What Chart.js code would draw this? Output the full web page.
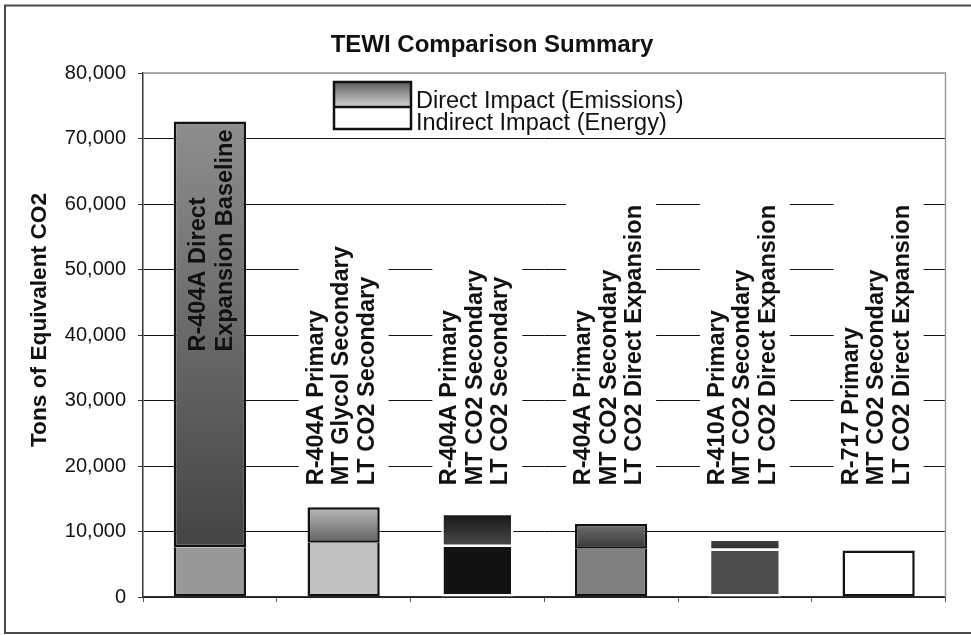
<!DOCTYPE html>
<html>
<head>
<meta charset="utf-8">
<script src="https://cdn.jsdelivr.net/npm/chart.js@4"></script>
<style>
  html, body { margin: 0; padding: 0; background: #fff; }
  #wrap { width: 971px; height: 635px; }
</style>
</head>
<body>
<div id="wrap"><canvas id="tewiChart" width="971" height="635"></canvas></div>
<script>
// categories (one array of lines per bar)
const categories = [
    ['R-404A Direct', 'Expansion Baseline'],
    ['R-404A Primary', 'MT Glycol Secondary', 'LT CO2 Secondary'],
    ['R-404A Primary', 'MT CO2 Secondary', 'LT CO2 Secondary'],
    ['R-404A Primary', 'MT CO2 Secondary', 'LT CO2 Direct Expansion'],
    ['R-410A Primary', 'MT CO2 Secondary', 'LT CO2 Direct Expansion'],
    ['R-717 Primary', 'MT CO2 Secondary', 'LT CO2 Direct Expansion']
];
const seriesNames = ['Indirect Impact (Energy)', 'Direct Impact (Emissions)'];
const indirectImpact = [7600, 8300, 7650, 7350, 7050, 7100];
const directImpact = [65000, 5400, 5200, 3800, 1900, 0];
const yTicks = [0, 10000, 20000, 30000, 40000, 50000, 60000, 70000, 80000];
const chartTitle = 'TEWI Comparison Summary';
const yTitle = 'Tons of Equivalent CO2';

// per bar styling
const indirectFill = ['#999999', '#c0c0c0', '#121212', '#808080', '#4d4d4d', '#ffffff'];
const directTop = ['#8e8e8e', '#bababa', '#141414', '#707070', '#464646', '#ffffff'];
const directBottom = ['#444444', '#626262', '#4c4c4c', '#363636', '#2c2c2c', '#ffffff'];
const edgeColor = ['#111', '#111', '#fff', '#111', '#fff', '#111'];

const FAMILY = '"Liberation Sans", Arial, sans-serif';
const LABEL_FONT = 'bold 23.5px ' + FAMILY;

function directGradient(context) {
    const i = context.dataIndex;
    if (context.type !== 'data') return '#666';
    const chart = context.chart;
    if (!chart.chartArea) return directBottom[i];
    const y = chart.scales.y;
    const yTop = y.getPixelForValue(indirectImpact[i] + directImpact[i]);
    const yBot = y.getPixelForValue(indirectImpact[i]);
    if (yBot - yTop < 1) return directBottom[i];
    const g = chart.ctx.createLinearGradient(0, yTop, 0, yBot);
    g.addColorStop(0, directTop[i]);
    g.addColorStop(1, directBottom[i]);
    return g;
}

// outer frame, plot border on top/right, titles
const framePlugin = {
    id: 'frame',
    beforeDraw(chart) {
        const ctx = chart.ctx;
        ctx.save();
        ctx.strokeStyle = '#4a4a4a';
        ctx.lineWidth = 2;
        ctx.strokeRect(5, 5.5, 1000, 627.5);
        ctx.restore();
    },
    afterDraw(chart) {
        const ctx = chart.ctx, a = chart.chartArea;
        ctx.save();
        ctx.strokeStyle = '#9a9a9a';
        ctx.lineWidth = 1.5;
        ctx.beginPath();
        ctx.moveTo(a.left, a.top);
        ctx.lineTo(a.right, a.top);
        ctx.lineTo(a.right, a.bottom);
        ctx.stroke();
        ctx.fillStyle = '#111';
        ctx.textAlign = 'center';
        ctx.textBaseline = 'middle';
        ctx.font = 'bold 24px ' + FAMILY;
        ctx.fillText(chartTitle, 492, 45);
        ctx.translate(40, 320);
        ctx.rotate(-Math.PI / 2);
        ctx.font = 'bold 22.7px ' + FAMILY;
        ctx.fillText(yTitle, 0, 0);
        ctx.restore();
    }
};

// rotated category labels above / inside the bars
const barLabelPlugin = {
    id: 'barLabels',
    afterDatasetsDraw(chart) {
        const ctx = chart.ctx;
        const m0 = chart.getDatasetMeta(0), m1 = chart.getDatasetMeta(1);
        ctx.save();
        ctx.font = LABEL_FONT;
        const info = categories.map((lines, i) => {
            const top = Math.min(m0.data[i].y, m1.data[i].y);
            const len = Math.max(...lines.map(l => ctx.measureText(l).width));
            const inside = (m0.data[i].base - top) > len + 40;
            return { lines, x: m0.data[i].x, top, len, inside };
        });
        const outsideTop = Math.min(...info.filter(o => !o.inside).map(o => o.top));
        info.forEach((o) => {
            const start = o.inside ? o.top + 8 + o.len : outsideTop - 22;
            const n = o.lines.length;
            const pitch = o.inside ? 27 : 25.5;
            if (!o.inside) {
                ctx.fillStyle = '#fff';
                ctx.fillRect(o.x - 45, start - o.len - 7, 90, o.len + 14);
            }
            ctx.save();
            ctx.translate(o.x, start);
            ctx.rotate(-Math.PI / 2);
            ctx.fillStyle = '#111';
            ctx.textAlign = 'left';
            ctx.textBaseline = 'alphabetic';
            o.lines.forEach((l, k) => {
                ctx.fillText(l, 0, (o.inside ? 8.5 : 4.4) + (k - (n - 1) / 2) * pitch);
            });
            ctx.restore();
        });
        ctx.restore();
    }
};

// legend box in the plot
const legendPlugin = {
    id: 'tewiLegend',
    afterDraw(chart) {
        const ctx = chart.ctx;
        const x = 334, y = 82, w = 77, h1 = 25, h2 = 22;
        ctx.save();
        const g = ctx.createLinearGradient(0, y, 0, y + h1);
        g.addColorStop(0, '#5e5e5e');
        g.addColorStop(1, '#d4d4d4');
        ctx.fillStyle = g;
        ctx.fillRect(x, y, w, h1);
        ctx.fillStyle = '#fff';
        ctx.fillRect(x, y + h1, w, h2);
        ctx.strokeStyle = '#111';
        ctx.lineWidth = 2.5;
        ctx.strokeRect(x, y, w, h1 + h2);
        ctx.beginPath();
        ctx.moveTo(x, y + h1);
        ctx.lineTo(x + w, y + h1);
        ctx.stroke();
        ctx.font = '23.5px ' + FAMILY;
        ctx.fillStyle = '#111';
        ctx.textBaseline = 'alphabetic';
        ctx.fillText(chart.data.datasets[1].label, x + 82, 108);
        ctx.fillText(chart.data.datasets[0].label, x + 82, 129.5);
        ctx.restore();
    }
};

new Chart(document.getElementById('tewiChart'), {
    type: 'bar',
    data: {
        labels: categories,
        datasets: [
            {
                label: seriesNames[0],
                data: indirectImpact,
                backgroundColor: indirectFill,
                borderColor: edgeColor,
                borderWidth: (c) => ({ top: directImpact[c.dataIndex] > 0 ? 0 : 2.5, left: 2.5, right: 2.5, bottom: 2.5 }),
                borderSkipped: false
            },
            {
                label: seriesNames[1],
                data: directImpact,
                backgroundColor: directGradient,
                borderColor: edgeColor,
                borderWidth: 2.5,
                borderSkipped: false
            }
        ]
    },
    options: {
        responsive: false,
        animation: false,
        layout: { padding: { left: 0, right: 25.5, top: 73, bottom: 0 } },
        datasets: { bar: { categoryPercentage: 1, barPercentage: 0.54 } },
        scales: {
            x: {
                stacked: true,
                ticks: { display: false },
                grid: { drawOnChartArea: false, offset: true, tickLength: 5, color: '#555' },
                border: { color: '#333', width: 1.5 },
                afterFit: (s) => { s.height = 38; }
            },
            y: {
                stacked: true,
                min: 0,
                max: 80000,
                afterBuildTicks: (s) => { s.ticks = yTicks.map(v => ({ value: v })); },
                ticks: {
                    padding: 12,
                    color: '#111',
                    font: { family: FAMILY, size: 20 },
                    callback: (v) => v.toLocaleString('en-US')
                },
                grid: {
                    color: (c) => (c.tick && c.tick.value === 80000) ? '#9a9a9a' : '#111',
                    tickColor: '#333',
                    tickLength: 5,
                    lineWidth: 1
                },
                border: { color: '#333', width: 1.5 },
                afterFit: (s) => { s.width = 143; }
            }
        },
        plugins: {
            legend: { display: false },
            tooltip: { enabled: false },
            title: { display: false }
        }
    },
    plugins: [framePlugin, barLabelPlugin, legendPlugin]
});
</script>
</body>
</html>
